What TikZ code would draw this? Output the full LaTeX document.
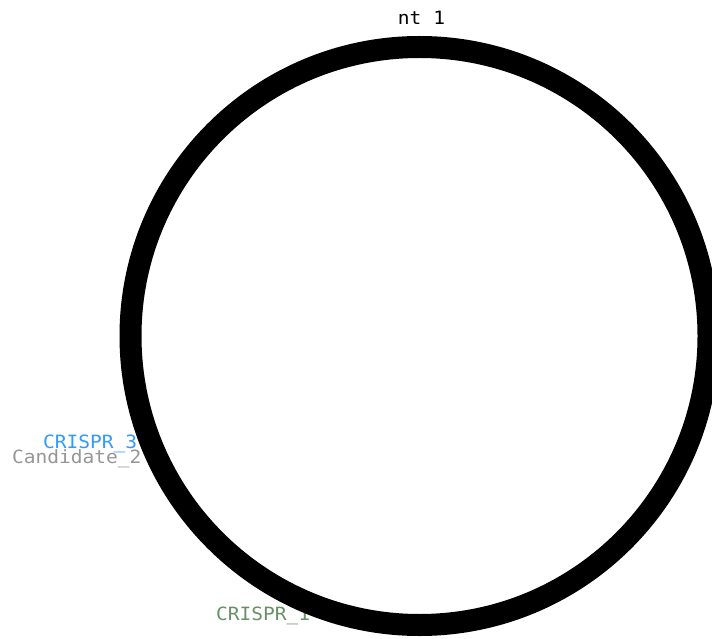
\documentclass[tikz,border=0pt]{standalone}
\usepackage{fontspec}
\newfontfamily\labelfont[FakeStretch=1.067]{DejaVu Sans Mono}
\definecolor{crisprblue}{RGB}{51,153,255}
\definecolor{candgray}{RGB}{150,150,150}
\definecolor{crisprgreen}{RGB}{102,145,102}
\begin{document}
\begin{tikzpicture}[x=1pt,y=-1pt,
  lbl/.style={inner sep=0pt, anchor=base west, font=\labelfont\fontsize{18.3pt}{20pt}\selectfont},
  ring/.style={draw=black, line width=22pt}]
\useasboundingbox (0,0) rectangle (712,639);
\coordinate (center) at (419.5,336);
\node[lbl, anchor=base] (nt) at (421.5,25) {nt 1};
\node[lbl, text=crisprblue] (c3) at (43,448) {CRISPR\_3};
\node[lbl, text=candgray] (cand2) at (12,463) {Candidate\_2};
\node[lbl, text=crisprgreen] (c1) at (216,620) {CRISPR\_1};
\draw[ring] (center) circle[radius=289pt];
\end{tikzpicture}
\end{document}
